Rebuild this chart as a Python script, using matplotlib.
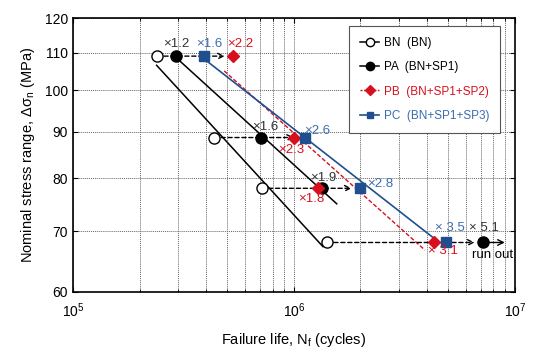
import numpy as np
import matplotlib.pyplot as plt
from matplotlib.ticker import FixedLocator, NullFormatter, LogLocator

plt.rcParams['font.family'] = ['Liberation Sans', 'DejaVu Sans']
plt.rcParams['mathtext.default'] = 'regular'

# data
stress = [109, 88.7, 78, 68]                  # MPa, one row per load level
bn_life = [2.40e5, 4.35e5, 7.14e5, 1.41e6]
pa_life = [2.92e5, 7.07e5, 1.334e6, 7.17e6]   # last one is a run-out
pb_life = [5.3e5, 1.0e6, 1.28e6, 4.3e6]
pc_life = [3.92e5, 1.12e6, 1.99e6, 4.87e6]

# stress span of each fitted S-N line
bn_span = [106.5, 67.3]
pa_span = [108.7, 75.0]
pb_span = [105, 66.7]
pc_span = [109, 68.2]

runout_end = 9.0e6

# improvement labels: (life list, row, text, colour, dx, dy) offsets in px
black = 'black'
red = '#d7101e'
blue = '#1f4f8f'
blue_txt = '#3a6cb0'
labels = [
    (pa_life, 0, '×1.2', '#333333', 0, 12),
    (pc_life, 0, '×1.6', blue_txt, 5, 12),
    (pb_life, 0, '×2.2', red, 7, 12),
    (pa_life, 1, '×1.6', '#333333', 5, 11),
    (pc_life, 1, '×2.6', blue_txt, 12, 7),
    (pb_life, 1, '×2.3', red, -3, -12),
    (pa_life, 2, '×1.9', '#333333', 2, 10),
    (pb_life, 2, '×1.8', red, -6, -11),
    (pc_life, 2, '×2.8', blue_txt, 20, 4),
    (pc_life, 3, '× 3.5', blue_txt, 4, 14),
    (pa_life, 3, '× 5.1', '#333333', 1, 14),
    (pb_life, 3, '× 3.1', red, 9, -9),
    (pa_life, 3, 'run out', black, 10, -13),
]

# dashed arrows from BN to the longest life in each row
arrow_target = [pb_life[0], pb_life[1], pc_life[2], pa_life[3]]
arrow_shrink = [6, 0, 6, 6]


def fit_line(life, s, span):
    a, b = np.polyfit(np.log10(life), np.log10(s), 1)
    ys = np.array(span)
    xs = 10 ** ((np.log10(ys) - b) / a)
    return xs, ys


fig = plt.figure(figsize=(5.33, 3.56), dpi=100)
ax = fig.add_axes([0.137, 0.180, 0.829, 0.769])

ax.set_xscale('log')
ax.set_yscale('log')
ax.set_xlim(1e5, 1e7)
ax.set_ylim(60, 120)

# fitted lines
x, y = fit_line(bn_life, stress, bn_span)
ax.plot(x, y, color=black, lw=1.1, zorder=2)
x, y = fit_line(pa_life[:3], stress[:3], pa_span)
ax.plot(x, y, color=black, lw=1.1, zorder=2)
x, y = fit_line(pb_life, stress, pb_span)
ax.plot(x, y, color=red, lw=1.0, ls=(0, (3, 1.5)), zorder=2)
x, y = fit_line(pc_life, stress, pc_span)
ax.plot(x, y, color=blue, lw=1.2, zorder=2)

# arrows
for i in range(4):
    ax.annotate('', xy=(arrow_target[i], stress[i]), xytext=(bn_life[i], stress[i]),
                arrowprops=dict(arrowstyle='->', color=black, lw=1.0, ls=(0, (3, 2)),
                                shrinkA=0, shrinkB=arrow_shrink[i]), zorder=3)
ax.annotate('', xy=(runout_end, stress[3]), xytext=(pa_life[3], stress[3]),
            arrowprops=dict(arrowstyle='->', color=black, lw=1.0, shrinkA=0, shrinkB=0),
            zorder=3)

# markers
ax.plot(bn_life, stress, ls='none', marker='o', ms=8, mfc='white', mec=black, mew=1.0,
        zorder=5)
ax.plot(pa_life, stress, ls='none', marker='o', ms=8, color=black, zorder=5)
ax.plot(pb_life, stress, ls='none', marker='D', ms=6.5, color=red, zorder=6)
ax.plot(pc_life, stress, ls='none', marker='s', ms=6.5, color=blue, zorder=6)

# legend proxies
ax.plot([], [], color=black, lw=1.1, marker='o', ms=6, mfc='white', mec=black, label='BN  (BN)')
ax.plot([], [], color=black, lw=1.1, marker='o', ms=6, label='PA  (BN+SP1)')
ax.plot([], [], color=red, lw=1.0, ls=(0, (1.5, 1)), marker='D', ms=5, label='PB  (BN+SP1+SP2)')
ax.plot([], [], color=blue, lw=1.2, marker='s', ms=5, label='PC  (BN+SP1+SP3)')

for life, row, txt, col, dx, dy in labels:
    ax.annotate(txt, xy=(life[row], stress[row]), xytext=(dx * 0.72, dy * 0.72),
                textcoords='offset points', ha='center', va='center', color=col,
                fontsize=9.5, zorder=7)

# ticks and grid
ax.yaxis.set_major_locator(FixedLocator([60, 70, 80, 90, 100, 110, 120]))
ax.yaxis.set_minor_locator(FixedLocator([]))
ax.yaxis.set_major_formatter(plt.FuncFormatter(lambda v, p: '%d' % v))
ax.yaxis.set_minor_formatter(NullFormatter())
ax.xaxis.set_major_locator(LogLocator(base=10, numticks=5))
ax.xaxis.set_minor_locator(LogLocator(base=10, subs=np.arange(2, 10), numticks=20))
ax.xaxis.set_minor_formatter(NullFormatter())
ax.tick_params(which='both', direction='in', top=True, right=True, labelsize=10)
ax.tick_params(axis='x', pad=7)
ax.grid(True, which='major', color='#666666', ls=(0, (1, 1)), lw=0.7)
ax.grid(True, which='minor', axis='x', color='#666666', ls=(0, (1, 1)), lw=0.7)
for sp in ax.spines.values():
    sp.set_linewidth(1.2)

ax.set_xlabel('Failure life, $N_f$ (cycles)', fontsize=10.5, labelpad=8)
ax.set_ylabel('Nominal stress range, $\\Delta\\sigma_n$ (MPa)', fontsize=10.5, labelpad=6)

leg = ax.legend(loc='upper right', bbox_to_anchor=(0.966, 0.971), borderaxespad=0,
                fontsize=8.5, handlelength=1.6, handletextpad=0.4, borderpad=0.9,
                labelspacing=1.05, fancybox=False, edgecolor='#555555', framealpha=1)
leg.get_frame().set_linewidth(0.8)
for t, c in zip(leg.get_texts(), [black, black, red, blue_txt]):
    t.set_color(c)

fig.savefig('out.png', dpi=100)
